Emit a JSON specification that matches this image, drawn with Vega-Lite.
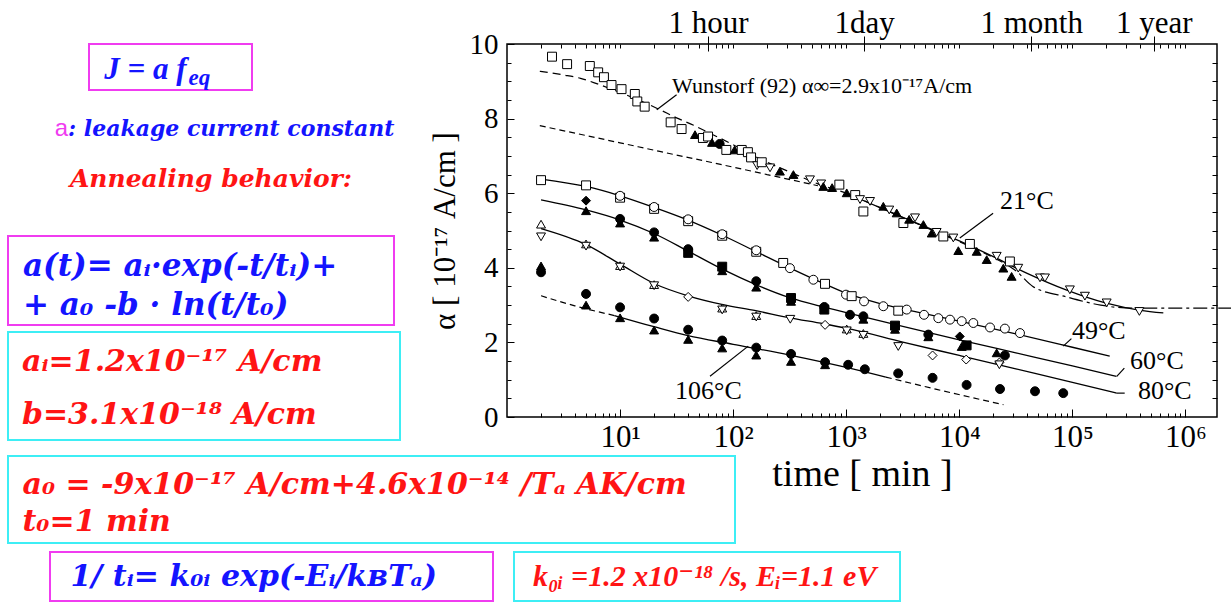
{
 "$schema": "https://vega.github.io/schema/vega-lite/v6.json",
 "padding": {"left": 7, "top": 6, "right": 0, "bottom": 0},
 "background": "white",
 "config": {
  "view": {"stroke": null},
  "axis": {"grid": false, "domain": false, "tickColor": "black", "tickWidth": 1, "labelColor": "black", "titleColor": "black", "labelFont": "Liberation Serif", "titleFont": "Liberation Serif", "titleFontWeight": "normal", "labelFlush": false, "labelOverlap": false, "labelBound": false}
 },
 "datasets": {
  "dashed": [
   {"curve": "Wunstorf (92)", "t": 1.95, "a": 9.27}, {"curve": "Wunstorf (92)", "t": 3.16, "a": 9.17}, {"curve": "Wunstorf (92)", "t": 4.47, "a": 9.08}, {"curve": "Wunstorf (92)", "t": 6.31, "a": 8.93}, {"curve": "Wunstorf (92)", "t": 10, "a": 8.70}, {"curve": "Wunstorf (92)", "t": 15.85, "a": 8.45}, {"curve": "Wunstorf (92)", "t": 22.4, "a": 8.24}, {"curve": "Wunstorf (92)", "t": 31.6, "a": 8.02}, {"curve": "Wunstorf (92)", "t": 44.7, "a": 7.82}, {"curve": "Wunstorf (92)", "t": 63.1, "a": 7.60}, {"curve": "Wunstorf (92)", "t": 100, "a": 7.30}, {"curve": "Wunstorf (92)", "t": 177.8, "a": 6.90}, {"curve": "Wunstorf (92)", "t": 316, "a": 6.57}, {"curve": "Wunstorf (92)", "t": 562, "a": 6.25}, {"curve": "Wunstorf (92)", "t": 1000, "a": 6.0}, {"curve": "Wunstorf (92)", "t": 1778, "a": 5.68}, {"curve": "Wunstorf (92)", "t": 3162, "a": 5.35}, {"curve": "Wunstorf (92)", "t": 5623, "a": 5.02}, {"curve": "Wunstorf (92)", "t": 10000, "a": 4.70}, {"curve": "Wunstorf (92)", "t": 17783, "a": 4.35}, {"curve": "Wunstorf (92)", "t": 25119, "a": 4.12},
   {"curve": "Wunstorf (92) α∞", "t": 25119, "a": 4.12}, {"curve": "Wunstorf (92) α∞", "t": 31623, "a": 3.92}, {"curve": "Wunstorf (92) α∞", "t": 44668, "a": 3.50}, {"curve": "Wunstorf (92) α∞", "t": 89125, "a": 3.22}, {"curve": "Wunstorf (92) α∞", "t": 177828, "a": 3.0}, {"curve": "Wunstorf (92) α∞", "t": 251189, "a": 2.94}, {"curve": "Wunstorf (92) α∞", "t": 398107, "a": 2.92}, {"curve": "Wunstorf (92) α∞", "t": 3019952, "a": 2.92},
   {"curve": "reference", "t": 1.95, "a": 7.81}, {"curve": "reference", "t": 10, "a": 7.35}, {"curve": "reference", "t": 22.4, "a": 7.12}, {"curve": "reference", "t": 63.1, "a": 6.83}, {"curve": "reference", "t": 199.5, "a": 6.50}, {"curve": "reference", "t": 562, "a": 6.20},
   {"curve": "106°C start", "t": 2, "a": 3.25}, {"curve": "106°C start", "t": 3.98, "a": 2.98}, {"curve": "106°C start", "t": 8.91, "a": 2.72},
   {"curve": "106°C tail", "t": 2239, "a": 1.07}, {"curve": "106°C tail", "t": 6310, "a": 0.74}, {"curve": "106°C tail", "t": 24547, "a": 0.33}
  ],
  "fits": [
   {"curve": "21°C", "t": 1000, "a": 6.0}, {"curve": "21°C", "t": 3162, "a": 5.35}, {"curve": "21°C", "t": 10000, "a": 4.72}, {"curve": "21°C", "t": 19953, "a": 4.30}, {"curve": "21°C", "t": 39811, "a": 3.85}, {"curve": "21°C", "t": 89125, "a": 3.40}, {"curve": "21°C", "t": 199526, "a": 3.05}, {"curve": "21°C", "t": 398107, "a": 2.86}, {"curve": "21°C", "t": 636796, "a": 2.79},
   {"curve": "49°C", "t": 2, "a": 6.38}, {"curve": "49°C", "t": 5.01, "a": 6.18}, {"curve": "49°C", "t": 10, "a": 5.93}, {"curve": "49°C", "t": 19.95, "a": 5.62}, {"curve": "49°C", "t": 39.8, "a": 5.28}, {"curve": "49°C", "t": 79.4, "a": 4.88}, {"curve": "49°C", "t": 158.5, "a": 4.44}, {"curve": "49°C", "t": 316, "a": 4.0}, {"curve": "49°C", "t": 631, "a": 3.58}, {"curve": "49°C", "t": 1000, "a": 3.32}, {"curve": "49°C", "t": 1995, "a": 3.04}, {"curve": "49°C", "t": 3981, "a": 2.83}, {"curve": "49°C", "t": 10000, "a": 2.57}, {"curve": "49°C", "t": 31623, "a": 2.23}, {"curve": "49°C", "t": 100000, "a": 1.87}, {"curve": "49°C", "t": 213796, "a": 1.63},
   {"curve": "60°C", "t": 2, "a": 5.82}, {"curve": "60°C", "t": 5.01, "a": 5.55}, {"curve": "60°C", "t": 10, "a": 5.28}, {"curve": "60°C", "t": 19.95, "a": 4.92}, {"curve": "60°C", "t": 39.8, "a": 4.45}, {"curve": "60°C", "t": 79.4, "a": 3.97}, {"curve": "60°C", "t": 158.5, "a": 3.55}, {"curve": "60°C", "t": 316, "a": 3.2}, {"curve": "60°C", "t": 631, "a": 2.95}, {"curve": "60°C", "t": 1000, "a": 2.80}, {"curve": "60°C", "t": 3162, "a": 2.43}, {"curve": "60°C", "t": 10000, "a": 2.07}, {"curve": "60°C", "t": 31623, "a": 1.72}, {"curve": "60°C", "t": 100000, "a": 1.37}, {"curve": "60°C", "t": 245471, "a": 1.09},
   {"curve": "80°C", "t": 2, "a": 5.05}, {"curve": "80°C", "t": 5.01, "a": 4.62}, {"curve": "80°C", "t": 10, "a": 4.1}, {"curve": "80°C", "t": 19.95, "a": 3.58}, {"curve": "80°C", "t": 39.8, "a": 3.25}, {"curve": "80°C", "t": 79.4, "a": 3.02}, {"curve": "80°C", "t": 158.5, "a": 2.85}, {"curve": "80°C", "t": 316, "a": 2.66}, {"curve": "80°C", "t": 631, "a": 2.50}, {"curve": "80°C", "t": 1000, "a": 2.38}, {"curve": "80°C", "t": 3162, "a": 2.01}, {"curve": "80°C", "t": 10000, "a": 1.65}, {"curve": "80°C", "t": 31623, "a": 1.29}, {"curve": "80°C", "t": 100000, "a": 0.93}, {"curve": "80°C", "t": 245471, "a": 0.64},
   {"curve": "106°C", "t": 8.91, "a": 2.72}, {"curve": "106°C", "t": 19.95, "a": 2.42}, {"curve": "106°C", "t": 39.8, "a": 2.18}, {"curve": "106°C", "t": 100, "a": 1.95}, {"curve": "106°C", "t": 316, "a": 1.66}, {"curve": "106°C", "t": 1000, "a": 1.33}, {"curve": "106°C", "t": 2239, "a": 1.07}
  ],
  "pointers": [
   {"t": 21.1, "a": 8.24, "t2": 31.6, "a2": 8.64}, {"t": 10100, "a": 4.80, "t2": 19900, "a2": 5.46}, {"t": 83000, "a": 1.90, "t2": 98000, "a2": 2.10}, {"t": 247000, "a": 1.09, "t2": 288000, "a2": 1.31}, {"t": 245000, "a": 0.64, "t2": 290000, "a2": 0.64}, {"t": 62.4, "a": 1.09, "t2": 136, "a2": 1.90}
  ],
  "labels": [
   {"t": 28.8, "a": 8.87, "label": "Wunstorf (92) α∞=2.9x10⁻¹⁷A/cm"}, {"t": 22900, "a": 5.79, "label": "21°C"}, {"t": 99100, "a": 2.31, "label": "49°C"}, {"t": 323000, "a": 1.50, "label": "60°C"}, {"t": 380000, "a": 0.70, "label": "80°C"}, {"t": 30.6, "a": 0.70, "label": "106°C"}
  ],
  "pts": [
   {"t": 2.5, "a": 9.66, "m": "open square"}, {"t": 3.4, "a": 9.46, "m": "open square"}, {"t": 5.4, "a": 9.41, "m": "open square"}, {"t": 6.4, "a": 9.24, "m": "open square"}, {"t": 7.2, "a": 9.11, "m": "open square"}, {"t": 8.4, "a": 8.90, "m": "open square"}, {"t": 10.3, "a": 8.79, "m": "open square"}, {"t": 13.5, "a": 8.66, "m": "open square"}, {"t": 14.2, "a": 8.46, "m": "open square"}, {"t": 16.5, "a": 8.32, "m": "open square"}, {"t": 28, "a": 7.90, "m": "open square"}, {"t": 35, "a": 7.72, "m": "open square"}, {"t": 46, "a": 7.57, "m": "filled triangle"}, {"t": 54, "a": 7.48, "m": "open square"}, {"t": 60, "a": 7.52, "m": "open square"}, {"t": 65, "a": 7.36, "m": "filled triangle"}, {"t": 76, "a": 7.32, "m": "filled circle"}, {"t": 87, "a": 7.16, "m": "open square"}, {"t": 103, "a": 7.16, "m": "filled triangle"}, {"t": 119, "a": 7.16, "m": "open square"}, {"t": 135, "a": 7.10, "m": "open square"}, {"t": 144, "a": 6.96, "m": "open square"}, {"t": 163, "a": 6.74, "m": "open triangle-down"}, {"t": 179, "a": 6.83, "m": "open square"}, {"t": 212, "a": 6.68, "m": "open triangle-down"}, {"t": 259, "a": 6.59, "m": "filled triangle"}, {"t": 341, "a": 6.50, "m": "filled triangle"}, {"t": 478, "a": 6.36, "m": "open triangle-down"}, {"t": 600, "a": 6.25, "m": "open triangle-down"}, {"t": 627, "a": 6.18, "m": "filled triangle"}, {"t": 750, "a": 6.15, "m": "filled triangle"}, {"t": 869, "a": 6.23, "m": "open square"}, {"t": 1010, "a": 6.01, "m": "filled triangle"}, {"t": 1200, "a": 5.95, "m": "open square"}, {"t": 1324, "a": 5.83, "m": "open triangle-down"}, {"t": 1417, "a": 5.51, "m": "open square"}, {"t": 1623, "a": 5.78, "m": "open triangle-down"}, {"t": 2128, "a": 5.65, "m": "filled triangle"}, {"t": 2400, "a": 5.55, "m": "open triangle-down"}, {"t": 2794, "a": 5.47, "m": "filled triangle"}, {"t": 3200, "a": 5.20, "m": "open square"}, {"t": 3600, "a": 5.30, "m": "filled triangle"}, {"t": 4058, "a": 5.34, "m": "open triangle-down"}, {"t": 4810, "a": 5.16, "m": "filled triangle"}, {"t": 5700, "a": 4.93, "m": "filled triangle"}, {"t": 6300, "a": 4.95, "m": "open triangle-down"}, {"t": 7220, "a": 4.84, "m": "open square"}, {"t": 8850, "a": 4.80, "m": "open triangle-down"}, {"t": 9800, "a": 4.46, "m": "filled triangle"}, {"t": 12400, "a": 4.64, "m": "open square"}, {"t": 14250, "a": 4.44, "m": "filled triangle"}, {"t": 17470, "a": 4.22, "m": "filled triangle"}, {"t": 21400, "a": 4.31, "m": "open triangle-down"}, {"t": 24500, "a": 3.99, "m": "filled triangle"}, {"t": 28000, "a": 4.17, "m": "open square"}, {"t": 29000, "a": 3.77, "m": "filled triangle"}, {"t": 33200, "a": 3.99, "m": "open triangle-down"}, {"t": 51700, "a": 3.73, "m": "open triangle-down"}, {"t": 57200, "a": 3.73, "m": "open triangle-down"}, {"t": 95000, "a": 3.41, "m": "open triangle-down"}, {"t": 129000, "a": 3.24, "m": "open triangle-down"}, {"t": 201000, "a": 3.06, "m": "open triangle-down"}, {"t": 391000, "a": 2.83, "m": "open triangle-down"},
   {"t": 2, "a": 6.35, "m": "open square"}, {"t": 5, "a": 6.21, "m": "open square"}, {"t": 10, "a": 5.88, "m": "open square"}, {"t": 10, "a": 5.93, "m": "open circle"}, {"t": 20, "a": 5.58, "m": "open square"}, {"t": 20, "a": 5.63, "m": "open circle"}, {"t": 40, "a": 5.25, "m": "open square"}, {"t": 40, "a": 5.30, "m": "open circle"}, {"t": 80, "a": 4.86, "m": "open square"}, {"t": 80, "a": 4.90, "m": "open circle"}, {"t": 160, "a": 4.43, "m": "open square"}, {"t": 160, "a": 4.47, "m": "open circle"}, {"t": 277, "a": 4.13, "m": "open square"}, {"t": 318, "a": 3.99, "m": "open circle"}, {"t": 512, "a": 3.68, "m": "open circle"}, {"t": 649, "a": 3.57, "m": "open square"}, {"t": 995, "a": 3.28, "m": "open circle"}, {"t": 1117, "a": 3.24, "m": "open square"}, {"t": 1436, "a": 3.10, "m": "open circle"}, {"t": 2128, "a": 2.97, "m": "open circle"}, {"t": 2884, "a": 2.85, "m": "open square"}, {"t": 3427, "a": 2.88, "m": "open circle"}, {"t": 4873, "a": 2.74, "m": "open circle"}, {"t": 6520, "a": 2.65, "m": "open circle"}, {"t": 8270, "a": 2.61, "m": "open circle"}, {"t": 10500, "a": 2.57, "m": "open circle"}, {"t": 13300, "a": 2.52, "m": "open circle"}, {"t": 18700, "a": 2.40, "m": "open circle"}, {"t": 25300, "a": 2.37, "m": "open circle"}, {"t": 34400, "a": 2.25, "m": "open circle"},
   {"t": 5, "a": 5.80, "m": "filled diamond"}, {"t": 5, "a": 5.53, "m": "filled triangle"}, {"t": 10, "a": 5.31, "m": "filled circle"}, {"t": 10, "a": 5.20, "m": "filled triangle"}, {"t": 20, "a": 4.95, "m": "filled circle"}, {"t": 20, "a": 4.82, "m": "filled triangle"}, {"t": 40, "a": 4.50, "m": "filled circle"}, {"t": 40, "a": 4.40, "m": "filled square"}, {"t": 80, "a": 4.03, "m": "filled square"}, {"t": 80, "a": 3.92, "m": "filled triangle"}, {"t": 160, "a": 3.64, "m": "filled circle"}, {"t": 160, "a": 3.48, "m": "filled triangle"}, {"t": 325, "a": 3.19, "m": "filled square"}, {"t": 325, "a": 3.10, "m": "filled triangle"}, {"t": 640, "a": 2.95, "m": "filled circle"}, {"t": 640, "a": 2.88, "m": "filled square"}, {"t": 1080, "a": 2.74, "m": "filled circle"}, {"t": 1417, "a": 2.70, "m": "filled circle"}, {"t": 1417, "a": 2.62, "m": "filled triangle"}, {"t": 2700, "a": 2.45, "m": "filled square"}, {"t": 2700, "a": 2.35, "m": "filled triangle"}, {"t": 5320, "a": 2.21, "m": "filled circle"}, {"t": 5320, "a": 2.15, "m": "filled triangle"}, {"t": 10100, "a": 2.16, "m": "filled diamond"}, {"t": 10500, "a": 1.89, "m": "filled triangle"}, {"t": 11600, "a": 1.92, "m": "filled square"}, {"t": 21400, "a": 1.72, "m": "filled triangle"}, {"t": 25300, "a": 1.65, "m": "filled circle"},
   {"t": 2, "a": 5.17, "m": "open triangle-up"}, {"t": 2, "a": 4.83, "m": "open triangle-down"}, {"t": 5, "a": 4.64, "m": "open triangle-up"}, {"t": 5, "a": 4.58, "m": "open triangle-down"}, {"t": 10, "a": 4.06, "m": "open triangle-up"}, {"t": 10, "a": 4.02, "m": "open triangle-down"}, {"t": 20, "a": 3.55, "m": "open triangle-up"}, {"t": 20, "a": 3.52, "m": "open triangle-down"}, {"t": 40, "a": 3.22, "m": "open diamond"}, {"t": 80, "a": 2.92, "m": "open triangle-up"}, {"t": 80, "a": 2.87, "m": "open triangle-down"}, {"t": 160, "a": 2.72, "m": "open triangle-up"}, {"t": 160, "a": 2.68, "m": "open triangle-down"}, {"t": 320, "a": 2.62, "m": "open triangle-down"}, {"t": 650, "a": 2.47, "m": "open diamond"}, {"t": 1010, "a": 2.36, "m": "open triangle-up"}, {"t": 1010, "a": 2.31, "m": "open triangle-down"}, {"t": 1417, "a": 2.24, "m": "open triangle-up"}, {"t": 1417, "a": 2.19, "m": "open triangle-down"}, {"t": 2884, "a": 1.89, "m": "open triangle-down"}, {"t": 5800, "a": 1.65, "m": "open diamond"}, {"t": 11500, "a": 1.54, "m": "open diamond"}, {"t": 22600, "a": 1.46, "m": "open diamond"}, {"t": 22600, "a": 1.40, "m": "open triangle-down"},
   {"t": 2, "a": 4.05, "m": "filled triangle"}, {"t": 2, "a": 3.88, "m": "filled circle"}, {"t": 5, "a": 3.30, "m": "filled circle"}, {"t": 5, "a": 3.00, "m": "filled triangle"}, {"t": 10, "a": 2.94, "m": "filled circle"}, {"t": 10, "a": 2.66, "m": "filled triangle"}, {"t": 20, "a": 2.64, "m": "filled circle"}, {"t": 20, "a": 2.33, "m": "filled triangle"}, {"t": 40, "a": 2.34, "m": "filled circle"}, {"t": 40, "a": 2.08, "m": "filled triangle"}, {"t": 80, "a": 2.05, "m": "filled circle"}, {"t": 80, "a": 1.85, "m": "filled triangle"}, {"t": 160, "a": 1.86, "m": "filled circle"}, {"t": 160, "a": 1.66, "m": "filled triangle"}, {"t": 325, "a": 1.69, "m": "filled circle"}, {"t": 325, "a": 1.49, "m": "filled triangle"}, {"t": 650, "a": 1.47, "m": "filled circle"}, {"t": 650, "a": 1.40, "m": "filled triangle"}, {"t": 1040, "a": 1.40, "m": "filled circle"}, {"t": 1460, "a": 1.28, "m": "filled circle"}, {"t": 2880, "a": 1.17, "m": "filled circle"}, {"t": 5800, "a": 1.05, "m": "filled circle"}, {"t": 11600, "a": 0.86, "m": "filled circle"}, {"t": 22900, "a": 0.75, "m": "filled circle"}, {"t": 46700, "a": 0.69, "m": "filled circle"}, {"t": 83000, "a": 0.64, "m": "filled circle"}
  ]
 },
 "spacing": 412,
 "bounds": "flush",
 "vconcat": [
  {
   "spacing": 499,
   "bounds": "flush",
   "hconcat": [
    {
     "spacing": 81,
     "bounds": "flush",
     "hconcat": [
      {
       "spacing": 7,
       "bounds": "flush",
       "vconcat": [
        {"width": 10, "height": 46, "data": {"values": [{}]}, "mark": {"type": "text", "text": ""}},
        {
         "width": 392, "height": 64,
         "data": {"values": [{"sym": "a", "rest": ": leakage current constant"}]},
         "layer": [
          {"mark": {"type": "text", "align": "right", "baseline": "middle", "dx": -136, "font": "Liberation Sans", "fontSize": 24, "color": "#f03cf0"}, "encoding": {"text": {"field": "sym", "type": "nominal"}}},
          {"mark": {"type": "text", "align": "left", "baseline": "middle", "dx": -136, "font": "DejaVu Serif", "fontSize": 22, "fontStyle": "italic", "fontWeight": "bold", "color": "#1414ff"}, "encoding": {"text": {"field": "rest", "type": "nominal"}}}
         ]
        },
        {
         "width": 392, "height": 22,
         "data": {"values": [{"txt": "Annealing behavior:"}]},
         "mark": {"type": "text", "align": "center", "baseline": "middle", "dx": 7, "font": "DejaVu Serif", "fontSize": 25, "fontStyle": "italic", "fontWeight": "bold", "color": "#ff1414"},
         "encoding": {"text": {"field": "txt", "type": "nominal"}}
        },
        {"width": 10, "height": 32, "data": {"values": [{}]}, "mark": {"type": "text", "text": ""}},
        {
         "width": 386, "height": 89,
         "view": {"stroke": "#f03cf0", "strokeWidth": 2},
         "data": {"values": [{"lines": ["a(t)= aᵢ·exp(-t/tᵢ)+", "+ a₀ -b · ln(t/t₀)"]}]},
         "mark": {"type": "text", "align": "left", "baseline": "middle", "dx": -178, "dy": -14, "lineHeight": 39, "font": "DejaVu Serif", "fontSize": 31, "fontStyle": "italic", "fontWeight": "bold", "color": "#1414ff"},
         "encoding": {"text": {"field": "lines", "type": "nominal"}}
        },
        {
         "width": 392, "height": 108,
         "view": {"stroke": "#3eeef5", "strokeWidth": 2},
         "data": {"values": [{"lines": ["aᵢ=1.2x10⁻¹⁷ A/cm", "b=3.1x10⁻¹⁸ A/cm"]}]},
         "mark": {"type": "text", "align": "left", "baseline": "middle", "dx": -182, "dy": -24, "lineHeight": 53, "font": "DejaVu Serif", "fontSize": 30, "fontStyle": "italic", "fontWeight": "bold", "color": "#ff1414"},
         "encoding": {"text": {"field": "lines", "type": "nominal"}}
        }
       ]
      },
      {
       "width": 163, "height": 46,
       "view": {"stroke": "#f03cf0", "strokeWidth": 2},
       "data": {"values": [{"main": "J = a f", "sub": "eq"}]},
       "layer": [
        {"mark": {"type": "text", "align": "right", "baseline": "alphabetic", "dx": 16, "dy": 12, "font": "Liberation Serif", "fontSize": 31, "fontStyle": "italic", "fontWeight": "bold", "color": "#1414ff"}, "encoding": {"text": {"field": "main", "type": "nominal"}}},
        {"mark": {"type": "text", "align": "left", "baseline": "alphabetic", "dx": 18, "dy": 18, "font": "Liberation Serif", "fontSize": 23, "fontStyle": "italic", "fontWeight": "bold", "color": "#1414ff"}, "encoding": {"text": {"field": "sub", "type": "nominal"}}}
       ]
      }
     ]
    },
    {
     "width": 710, "height": 373,
     "view": {"stroke": "black", "strokeWidth": 1.5},
     "resolve": {"axis": {"x": "independent", "y": "independent"}},
     "layer": [
      {
       "data": {"name": "dashed"},
       "mark": {"type": "line", "color": "black", "strokeWidth": 1.2, "interpolate": "monotone", "clip": false},
       "encoding": {
        "x": {"field": "t", "type": "quantitative", "scale": {"type": "log", "domain": [1, 1900000], "nice": false},
              "axis": {"orient": "bottom", "values": [10, 100, 1000, 10000, 100000, 1000000], "tickSize": -8, "labelPadding": 13, "labelFontSize": 31, "labelExpr": "datum.value == 10 ? '10¹' : datum.value == 100 ? '10²' : datum.value == 1000 ? '10³' : datum.value == 10000 ? '10⁴' : datum.value == 100000 ? '10⁵' : '10⁶'", "title": "time   [ min ]", "titleFontSize": 38, "titlePadding": 3}},
        "y": {"field": "a", "type": "quantitative", "scale": {"domain": [0, 10], "nice": false, "zero": false},
              "axis": {"orient": "left", "values": [0, 2, 4, 6, 8, 10], "tickSize": -7, "labelPadding": 16, "labelFontSize": 29, "title": "α [ 10⁻¹⁷ A/cm ]", "titleFontSize": 31, "titlePadding": 8}},
        "strokeDash": {"field": "curve", "type": "nominal", "legend": null,
                       "scale": {"domain": ["Wunstorf (92)", "Wunstorf (92) α∞", "reference", "106°C start", "106°C tail"], "range": [[8, 5], [14, 4, 3, 4], [6, 4], [6, 4], [6, 4]]}}
       }
      },
      {
       "data": {"name": "fits"},
       "mark": {"type": "line", "color": "black", "strokeWidth": 1.3, "interpolate": "monotone"},
       "encoding": {
        "x": {"field": "t", "type": "quantitative", "scale": {"type": "log", "domain": [1, 1900000], "nice": false},
              "axis": {"orient": "bottom", "values": [2,3,4,5,6,7,8,9,20,30,40,50,60,70,80,90,200,300,400,500,600,700,800,900,2000,3000,4000,5000,6000,7000,8000,9000,20000,30000,40000,50000,60000,70000,80000,90000,200000,300000,400000,500000,600000,700000,800000,900000], "tickSize": -4, "labels": false, "title": null}},
        "y": {"field": "a", "type": "quantitative", "scale": {"domain": [0, 10], "nice": false, "zero": false},
              "axis": {"orient": "left", "values": [0.5,1,1.5,2.5,3,3.5,4.5,5,5.5,6.5,7,7.5,8.5,9,9.5], "tickSize": -4, "labels": false, "title": null}},
        "detail": {"field": "curve", "type": "nominal"}
       }
      },
      {
       "data": {"name": "pointers"},
       "mark": {"type": "rule", "color": "black", "strokeWidth": 1.2},
       "encoding": {
        "x": {"field": "t", "type": "quantitative", "scale": {"type": "log", "domain": [1, 1900000], "nice": false},
              "axis": {"orient": "top", "values": [2,3,4,5,6,7,8,9,10,20,30,40,50,70,80,90,100,200,300,400,500,600,700,800,900,1000,2000,3000,4000,5000,6000,7000,8000,9000,10000,20000,30000,40000,50000,60000,70000,80000,90000,100000,200000,300000,400000,600000,700000,800000,900000,1000000], "tickSize": -4, "labels": false, "title": null}},
        "y": {"field": "a", "type": "quantitative", "scale": {"domain": [0, 10], "nice": false, "zero": false},
              "axis": {"orient": "right", "values": [0.5,1,1.5,2,2.5,3,3.5,4,4.5,5,5.5,6,6.5,7,7.5,8,8.5,9,9.5], "tickSize": -5, "labels": false, "title": null}},
        "x2": {"field": "t2"},
        "y2": {"field": "a2"}
       }
      },
      {
       "data": {"name": "pts"},
       "mark": {"type": "point", "filled": true, "stroke": "black", "strokeWidth": 1, "size": 80, "opacity": 1},
       "encoding": {
        "x": {"field": "t", "type": "quantitative", "scale": {"type": "log", "domain": [1, 1900000], "nice": false},
              "axis": {"orient": "top", "values": [60, 1440, 43200, 525600], "offset": -7, "tickSize": 15, "labelBaseline": "alphabetic", "labelPadding": 4, "labelFontSize": 31, "labelExpr": "datum.value == 60 ? '1 hour' : datum.value == 1440 ? '1day' : datum.value == 43200 ? '1 month' : '1 year'", "title": null}},
        "y": {"field": "a", "type": "quantitative", "scale": {"domain": [0, 10], "nice": false, "zero": false}, "axis": null},
        "shape": {"field": "m", "type": "nominal", "legend": null,
                  "scale": {"domain": ["open square", "open circle", "open triangle-up", "open triangle-down", "open diamond", "filled circle", "filled triangle", "filled square", "filled diamond"],
                            "range": ["square", "circle", "triangle-up", "triangle-down", "diamond", "circle", "triangle-up", "square", "diamond"]}},
        "fill": {"field": "m", "type": "nominal", "legend": null,
                 "scale": {"domain": ["open square", "open circle", "open triangle-up", "open triangle-down", "open diamond", "filled circle", "filled triangle", "filled square", "filled diamond"],
                           "range": ["white", "white", "white", "white", "white", "black", "black", "black", "black"]}}
       }
      },
      {
       "data": {"name": "labels"},
       "mark": {"type": "text", "align": "left", "baseline": "middle", "font": "Liberation Serif", "color": "black"},
       "encoding": {
        "x": {"field": "t", "type": "quantitative", "scale": {"type": "log", "domain": [1, 1900000], "nice": false}, "axis": null},
        "y": {"field": "a", "type": "quantitative", "scale": {"domain": [0, 10], "nice": false, "zero": false}, "axis": null},
        "text": {"field": "label", "type": "nominal"},
        "size": {"condition": {"test": "datum.label[0] == 'W'", "value": 22}, "value": 26}
       }
      }
     ]
    }
   ]
  },
  {
   "spacing": 9,
   "bounds": "flush",
   "vconcat": [
    {
     "width": 727, "height": 87,
     "view": {"stroke": "#3eeef5", "strokeWidth": 2},
     "data": {"values": [{"lines": ["a₀ = -9x10⁻¹⁷ A/cm+4.6x10⁻¹⁴ /Tₐ  AK/cm", " t₀=1 min"]}]},
     "mark": {"type": "text", "align": "left", "baseline": "middle", "dx": -349, "dy": -15, "lineHeight": 37, "font": "DejaVu Serif", "fontSize": 30, "fontStyle": "italic", "fontWeight": "bold", "color": "#ff1414"},
     "encoding": {"text": {"field": "lines", "type": "nominal"}}
    },
    {
     "spacing": 21,
     "bounds": "flush",
     "hconcat": [
      {"width": 21, "height": 49, "data": {"values": [{}]}, "mark": {"type": "text", "text": ""}},
      {
       "width": 443, "height": 49,
       "view": {"stroke": "#f03cf0", "strokeWidth": 2},
       "data": {"values": [{"txt": "1/ tᵢ= k₀ᵢ exp(-Eᵢ/kʙTₐ)"}]},
       "mark": {"type": "text", "align": "left", "baseline": "middle", "dx": -201, "font": "DejaVu Serif", "fontSize": 30, "fontStyle": "italic", "fontWeight": "bold", "color": "#1414ff"},
       "encoding": {"text": {"field": "txt", "type": "nominal"}}
      },
      {
       "width": 386, "height": 49,
       "view": {"stroke": "#3eeef5", "strokeWidth": 2},
       "data": {"values": [{"txt": "k₀ᵢ =1.2 x10⁻¹⁸ /s, Eᵢ=1.1 eV"}]},
       "mark": {"type": "text", "align": "left", "baseline": "middle", "dx": -174, "font": "Liberation Serif, DejaVu Serif", "fontSize": 30, "fontStyle": "italic", "fontWeight": "bold", "color": "#ff1414"},
       "encoding": {"text": {"field": "txt", "type": "nominal"}}
      }
     ]
    }
   ]
  }
 ]
}
